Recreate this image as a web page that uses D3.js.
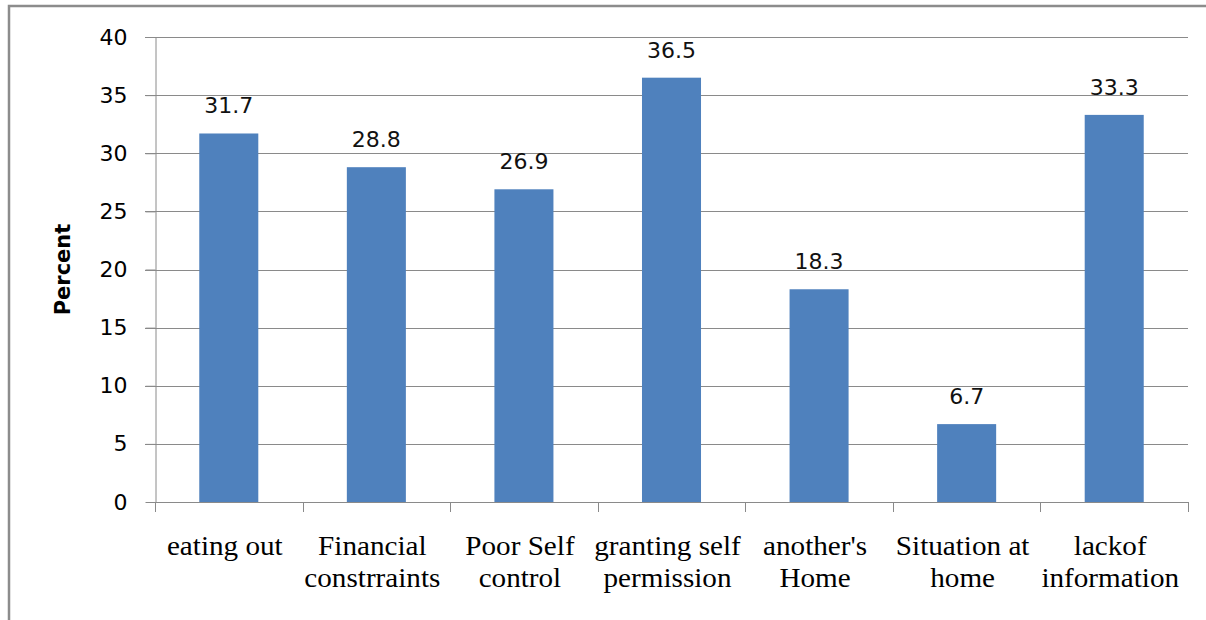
<!DOCTYPE html>
<html>
<head>
<meta charset="utf-8">
<script src="https://cdnjs.cloudflare.com/ajax/libs/d3/7.8.5/d3.min.js"></script>
<style>
  html, body { margin: 0; padding: 0; background: #fff; }
  svg { display: block; }
  .cat { font-family: "Liberation Serif", "Times New Roman", Times, serif; }
</style>
</head>
<body>
<script>
// Reasons given, as percent of respondents
const categories = [
  ["eating out"],
  ["Financial", "constrraints"],
  ["Poor Self", "control"],
  ["granting self", "permission"],
  ["another's", "Home"],
  ["Situation at", "home"],
  ["lackof", "information"]
];
const values = [31.7, 28.8, 26.9, 36.5, 18.3, 6.7, 33.3];
const yTicks = [0, 5, 10, 15, 20, 25, 30, 35, 40];
const yTitle = "Percent";

const W = 1206, H = 620;
const plot = { left: 155, right: 1188, top: 37, bottom: 502 };

const svg = d3.select("body").append("svg")
  .attr("width", W).attr("height", H);

// outer chart frame (runs off the right and bottom edges)
svg.append("rect")
  .attr("x", 9).attr("y", 6)
  .attr("width", 1300).attr("height", 700)
  .attr("fill", "none")
  .attr("stroke", "#8c8c8c")
  .attr("stroke-width", 2.5);

const ids = categories.map((c, i) => i);

const x = d3.scaleBand()
  .domain(ids)
  .range([plot.left, plot.right])
  .paddingInner(0.6)
  .paddingOuter(0.3);

const y = d3.scaleLinear()
  .domain([0, 40])
  .range([plot.bottom, plot.top]);

const gridColor = "#8a8a8a";

// horizontal gridlines
svg.append("g").selectAll("line")
  .data(yTicks.filter(t => t > 0))
  .join("line")
  .attr("x1", plot.left - 10).attr("x2", plot.right)
  .attr("y1", d => Math.round(y(d)) + 0.5)
  .attr("y2", d => Math.round(y(d)) + 0.5)
  .attr("stroke", gridColor)
  .attr("stroke-width", 1);

// y axis
const yAxis = svg.append("g")
  .attr("transform", `translate(${plot.left + 0.5},0)`)
  .call(d3.axisLeft(y).tickValues(yTicks).tickSize(10).tickPadding(18).tickSizeOuter(0));
yAxis.select(".domain").attr("stroke", gridColor);
yAxis.selectAll(".tick line").attr("stroke", gridColor);
yAxis.selectAll(".tick text")
  .attr("font-family", "'DejaVu Sans', sans-serif")
  .attr("font-size", 22)
  .attr("fill", "#000");

// x axis baseline with category separators
const step = x.step();
const xAxis = svg.append("g");
xAxis.append("line")
  .attr("x1", plot.left).attr("x2", plot.right)
  .attr("y1", Math.round(y(0)) + 0.5).attr("y2", Math.round(y(0)) + 0.5)
  .attr("stroke", gridColor);
xAxis.selectAll("line.sep")
  .data(d3.range(ids.length + 1))
  .join("line")
  .attr("class", "sep")
  .attr("x1", i => Math.round(plot.left + i * step) + 0.5)
  .attr("x2", i => Math.round(plot.left + i * step) + 0.5)
  .attr("y1", y(0)).attr("y2", y(0) + 10)
  .attr("stroke", gridColor);

// bars
svg.append("g").selectAll("rect")
  .data(values)
  .join("rect")
  .attr("x", (d, i) => x(i))
  .attr("width", x.bandwidth())
  .attr("y", d => y(d))
  .attr("height", d => y(0) - y(d))
  .attr("fill", "#4f81bd");

// value labels
svg.append("g").selectAll("text")
  .data(values)
  .join("text")
  .attr("x", (d, i) => x(i) + x.bandwidth() / 2)
  .attr("y", d => y(d) - 20)
  .attr("text-anchor", "middle")
  .attr("font-family", "'DejaVu Sans', sans-serif")
  .attr("font-size", 22)
  .attr("fill", "#111")
  .text(d => d.toFixed(1));

// category labels
const catG = svg.append("g").selectAll("g")
  .data(categories)
  .join("g")
  .attr("transform", (d, i) => `translate(${x(i) + x.bandwidth() / 2 - 4},0) scale(1.08,1)`);
catG.selectAll("text")
  .data(d => d)
  .join("text")
  .attr("class", "cat")
  .attr("x", 0)
  .attr("y", (d, j) => 555 + j * 32)
  .attr("text-anchor", "middle")
  .attr("font-size", 27)
  .attr("fill", "#000")
  .text(d => d);

// y axis title
svg.append("text")
  .attr("transform", `translate(70,${(plot.top + plot.bottom) / 2}) rotate(-90)`)
  .attr("text-anchor", "middle")
  .attr("font-family", "'DejaVu Sans', sans-serif")
  .attr("font-weight", "bold")
  .attr("font-size", 21)
  .attr("fill", "#000")
  .text(yTitle);
</script>
</body>
</html>
